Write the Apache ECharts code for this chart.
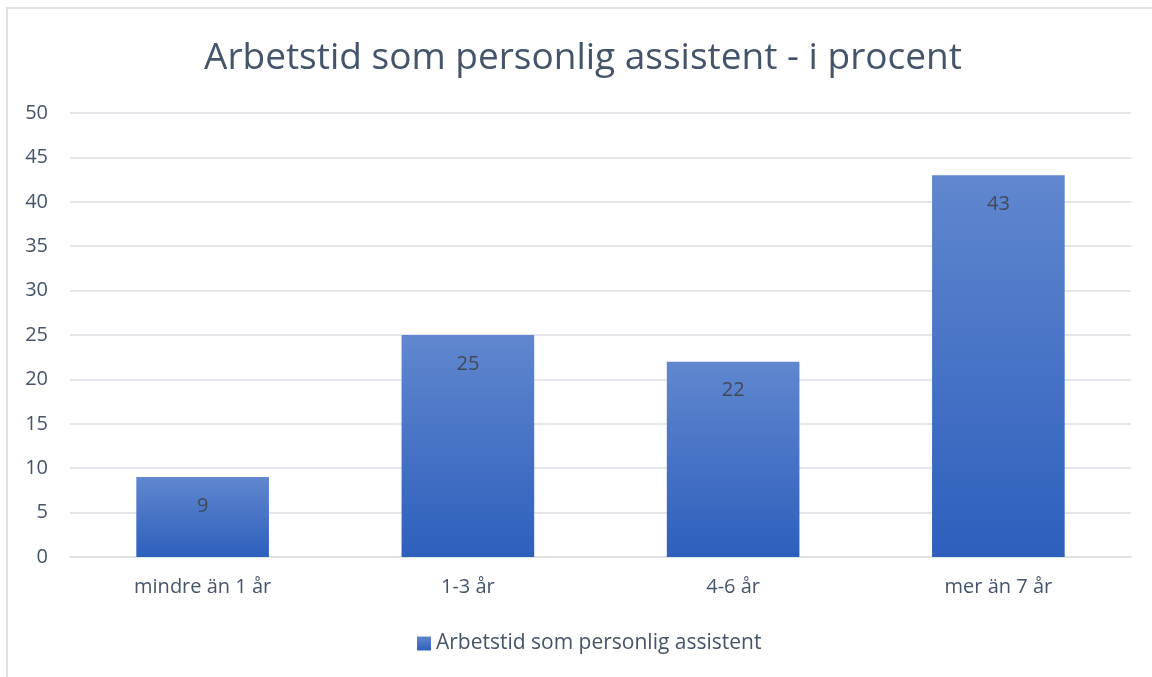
<!DOCTYPE html>
<html>
<head>
<meta charset="utf-8">
<script src="https://cdn.jsdelivr.net/npm/echarts@6/dist/echarts.min.js"></script>
<style>
html, body { margin: 0; padding: 0; background: #fff; }
#chart { width: 1152px; height: 677px; }
</style>
</head>
<body>
<div id="chart"></div>
<script>
const chartTitle = 'Arbetstid som personlig assistent - i procent';
const seriesName = 'Arbetstid som personlig assistent';
const categories = ['mindre än 1 år', '1-3 år', '4-6 år', 'mer än 7 år'];
const values = [9, 25, 22, 43];

const textFont = '"Open Sans", "Noto Sans", sans-serif';
const barGradient = new echarts.graphic.LinearGradient(0, 0, 0, 1, [
    { offset: 0, color: '#6087cf' },
    { offset: 1, color: '#2e5fbd' }
]);

const myChart = echarts.init(document.getElementById('chart'));
const option = {
    animation: false,
    textStyle: { fontFamily: textFont },
    title: {
        text: chartTitle,
        left: 204,
        top: 40,
        padding: 0,
        textStyle: { fontSize: 37, fontWeight: 'normal', color: '#44546a', fontFamily: textFont }
    },
    graphic: [{
        type: 'rect',
        shape: { x: 7, y: 8, width: 1200, height: 700 },
        style: { fill: 'none', stroke: '#dfe2e7', lineWidth: 2 },
        silent: true
    }],
    legend: {
        bottom: 18,
        left: 412,
        itemWidth: 14,
        itemHeight: 14,
        icon: 'rect',
        textStyle: { fontSize: 21, color: '#44546a' },
        data: [seriesName]
    },
    grid: { left: 70, right: 21, top: 113, bottom: 120 },
    xAxis: {
        type: 'category',
        data: categories,
        axisLine: { show: true, lineStyle: { color: '#dfe2e7', width: 2 } },
        axisTick: { show: false },
        axisLabel: { fontSize: 20, color: '#44546a', margin: 20 }
    },
    yAxis: {
        type: 'value',
        min: 0,
        max: 50,
        interval: 5,
        axisLine: { show: false },
        axisTick: { show: false },
        axisLabel: { fontSize: 20, color: '#44546a', margin: 22 },
        splitLine: { lineStyle: { color: '#e3e6ea', width: 2 } }
    },
    series: [{
        name: seriesName,
        type: 'bar',
        data: values,
        barWidth: '50%',
        itemStyle: { color: barGradient },
        label: {
            show: true,
            position: 'insideTop',
            distance: 19,
            fontSize: 20,
            color: '#404a57'
        }
    }]
};
myChart.setOption(option);
</script>
</body>
</html>
